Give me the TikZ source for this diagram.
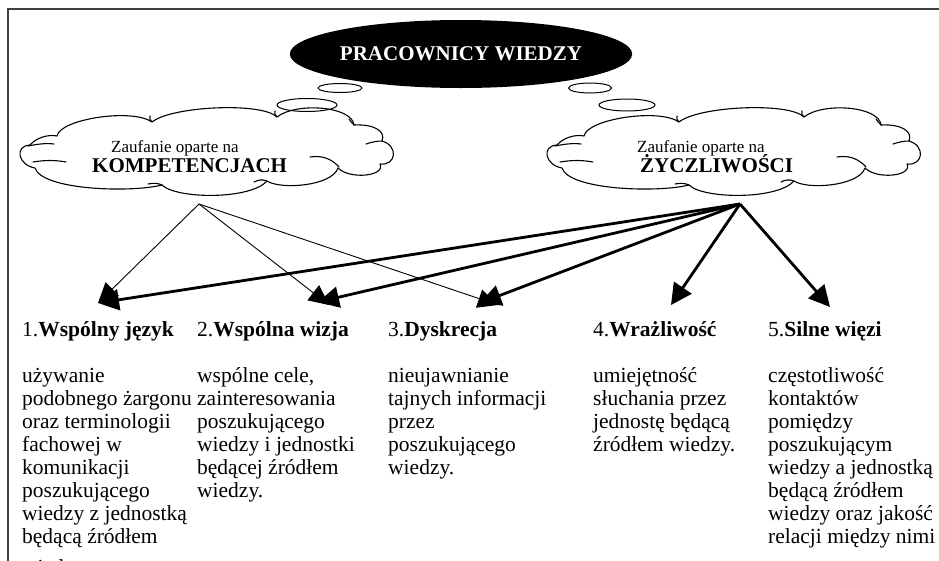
\documentclass[tikz,border=0pt]{standalone}
\usepackage{fontspec}
\setmainfont{Liberation Serif}
\usetikzlibrary{arrows.meta,shapes.geometric}
\newcommand{\rowline}[1]{\hbox{#1}}
\begin{document}
\begin{tikzpicture}[x=1pt,y=-1pt,
  thinarr/.style={line width=0.9pt,-{Triangle[length=20pt,width=19pt]}},
  thickarr/.style={line width=2.8pt,-{Triangle[length=21pt,width=21pt]}},
  cloudline/.style={line width=1.1pt,line join=round,line cap=round},
  bubble/.style={ellipse,draw,line width=1pt,inner sep=0pt},
  headtxt/.style={anchor=base west,inner sep=0pt,font=\fontsize{21.5}{23}\selectfont},
  bodytxt/.style={anchor=base west,inner sep=0pt,font=\fontsize{21.5}{23}\selectfont},
  cloudsmall/.style={anchor=base west,inner sep=0pt,font=\fontsize{17}{20}\selectfont},
  cloudbig/.style={anchor=base west,inner sep=0pt,font=\fontsize{21}{23}\selectfont\bfseries},
  framebar/.style={line width=2pt,gray!50!black}
]
\useasboundingbox (0,0) rectangle (939,560);
\clip (0,0) rectangle (939,560);
\fill[white] (0,0) rectangle (939,560);

% frame
\coordinate (fa) at (8,575);
\coordinate (fb) at (8,9);
\coordinate (fc) at (950,9);
\draw[framebar] (fa) -- (fb) -- (fc);

% title ellipse
\node[ellipse,fill=black,minimum width=294pt,minimum height=68pt,inner sep=0pt,
      text=white,font=\fontsize{21}{22}\selectfont\bfseries] (title) at (461,54) {PRACOWNICY WIEDZY};

% thought bubbles
\node[bubble,minimum width=44pt,minimum height=9pt] (bl1) at (340,88) {};
\node[bubble,minimum width=60pt,minimum height=13pt] (bl2) at (307,105) {};
\node[bubble,minimum width=43pt,minimum height=10pt] (br1) at (590,88) {};
\node[bubble,minimum width=56pt,minimum height=12pt] (br2) at (627,105) {};

% clouds
\foreach \dx in {0,527}{
\begin{scope}[xshift=\dx pt]
\draw[cloudline] (57,136)
  .. controls (60,119) and (132,108) .. (152,122)
  .. controls (172,106) and (262,102) .. (277,117)
  .. controls (296,102) and (352,106) .. (354,125)
  .. controls (374,124) and (386,131) .. (382,141)
  .. controls (399,146) and (396,166) .. (380,164)
  .. controls (386,176) and (350,180) .. (338,168)
  .. controls (332,186) and (281,190) .. (267,181)
  .. controls (250,200) and (176,199) .. (162,185)
  .. controls (130,193) and (42,190) .. (35,168)
  .. controls (18,165) and (14,146) .. (30,145)
  .. controls (36,138) and (48,134) .. (57,136) -- cycle;
\draw[cloudline] (33,162) .. controls (45,160) and (55,160) .. (66,162);
\draw[cloudline] (28,146) .. controls (38,144) and (46,143) .. (54,144);
\draw[cloudline] (366,144) .. controls (372,142) and (377,141) .. (382,141);
\draw[cloudline] (310,157) .. controls (322,155) and (332,159) .. (339,167);
\draw[cloudline] (152,122) .. controls (150,120) and (149,118) .. (150,116);
\draw[cloudline] (277,117) .. controls (275,115) and (274,113) .. (275,111);
\draw[cloudline] (354,125) .. controls (352,123) and (350,121) .. (349,119);
\draw[cloudline] (267,181) .. controls (262,179) and (258,180) .. (254,182);
\draw[cloudline] (162,185) .. controls (158,183) and (153,183) .. (148,184);
\end{scope}
}

% cloud texts
\node[cloudsmall] (k1) at (111,152) {Zaufanie oparte na};
\node[cloudbig]   (k2) at (92,172) {KOMPETENCJACH};
\node[cloudsmall] (z1) at (637,152) {Zaufanie oparte na};
\node[cloudbig]   (z2) at (640,172) {ŻYCZLIWOŚCI};

% arrow anchors
\coordinate (ls) at (199,204);
\coordinate (rs) at (740,204);
\coordinate (t1) at (98,303);
\coordinate (t2a) at (329,305);
\coordinate (t2b) at (318,302);
\coordinate (t3a) at (498,305);
\coordinate (t3b) at (480,303);
\coordinate (t4) at (671,305);
\coordinate (t5) at (830,307);

% thin arrows (competence)
\draw[thinarr] (ls) -- (t1);
\draw[thinarr] (ls) -- (t2a);
\draw[thinarr] (ls) -- (t3a);
% thick arrows (benevolence)
\draw[thickarr] (rs) -- (t1);
\draw[thickarr] (rs) -- (t2b);
\draw[thickarr] (rs) -- (t3b);
\draw[thickarr] (rs) -- (t4);
\draw[thickarr] (rs) -- (t5);

% headings
\node[headtxt] (h1) at (22,336)  {1.\textbf{Wspólny język}};
\node[headtxt] (h2) at (197,336) {2.\textbf{Wspólna wizja}};
\node[headtxt] (h3) at (388,336) {3.\textbf{Dyskrecja}};
\node[headtxt] (h4) at (593,336) {4.\textbf{Wrażliwość}};
\node[headtxt] (h5) at (768,336) {5.\textbf{Silne więzi}};

% bodies
\node[bodytxt] (b1) at (22,382) {\vtop{\rowline{używanie}\rowline{podobnego żargonu}\rowline{oraz terminologii}\rowline{fachowej w}\rowline{komunikacji}\rowline{poszukującego}\rowline{wiedzy z jednostką}\rowline{będącą źródłem}\vskip8pt\rowline{wiedzy.}}};
\node[bodytxt] (b2) at (197,382) {\vtop{\rowline{wspólne cele,}\rowline{zainteresowania}\rowline{poszukującego}\rowline{wiedzy i jednostki}\rowline{będącej źródłem}\rowline{wiedzy.}}};
\node[bodytxt] (b3) at (388,382) {\vtop{\rowline{nieujawnianie}\rowline{tajnych informacji}\rowline{przez}\rowline{poszukującego}\rowline{wiedzy.}}};
\node[bodytxt] (b4) at (593,382) {\vtop{\rowline{umiejętność}\rowline{słuchania przez}\rowline{jednostę będącą}\rowline{źródłem wiedzy.}}};
\node[bodytxt] (b5) at (768,382) {\vtop{\rowline{częstotliwość}\rowline{kontaktów}\rowline{pomiędzy}\rowline{poszukującym}\rowline{wiedzy a jednostką}\rowline{będącą źródłem}\rowline{wiedzy oraz jakość}\rowline{relacji między nimi}}};
\end{tikzpicture}
\end{document}
